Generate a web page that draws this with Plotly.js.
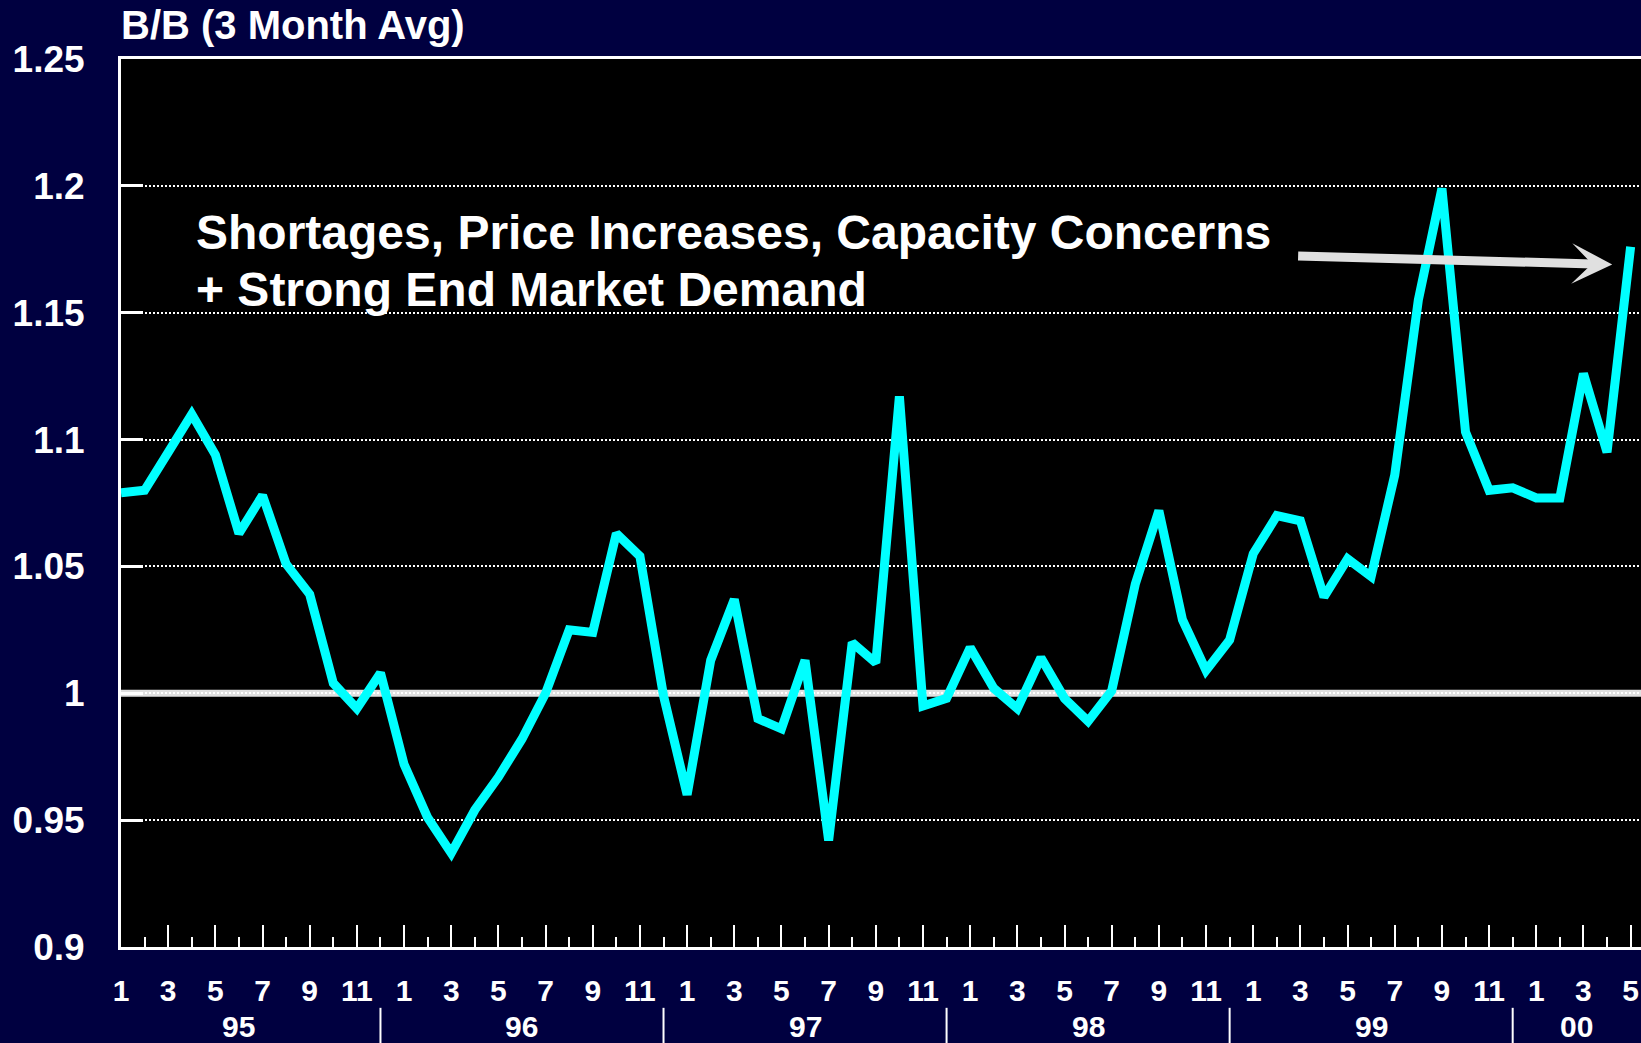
<!DOCTYPE html>
<html>
<head>
<meta charset="utf-8">
<script src="https://cdn.plot.ly/plotly-3.0.1.min.js"></script>
<style>
  html, body { margin: 0; padding: 0; background: #000040; }
  #chart { width: 1641px; height: 1043px; }
</style>
</head>
<body>
<div id="chart"></div>
<script>
// ---- Data (monthly, Jan 1995 .. May 2000) ----
const bookToBill = [
  1.079, 1.080, 1.095, 1.110, 1.094, 1.063, 1.078, 1.051, 1.039, 1.004, 0.994, 1.008,
  0.972, 0.951, 0.937, 0.954, 0.967, 0.982, 1.000, 1.025, 1.024, 1.063, 1.054, 0.999,
  0.960, 1.013, 1.037, 0.990, 0.986, 1.013, 0.942, 1.020, 1.012, 1.117, 0.995, 0.998,
  1.018, 1.002, 0.994, 1.014, 0.998, 0.989, 1.001, 1.043, 1.072, 1.029, 1.009, 1.021,
  1.055, 1.070, 1.068, 1.038, 1.053, 1.046, 1.086, 1.155, 1.199, 1.103, 1.080, 1.081,
  1.077, 1.077, 1.126, 1.095, 1.176
];
const monthLabels = ['1', '3', '5', '7', '9', '11'];
const yearLabels = ['95', '96', '97', '98', '99', '00'];
const yTickVals = [0.9, 0.95, 1.0, 1.05, 1.1, 1.15, 1.2, 1.25];
const yTickText = ['0.9', '0.95', '1', '1.05', '1.1', '1.15', '1.2', '1.25'];
const chartTitle = 'B/B (3 Month Avg)';
const noteLines = ['Shortages, Price Increases, Capacity Concerns', '+ Strong End Market Demand'];

// ---- Derived ----
const xIdx = bookToBill.map((_, i) => i);
const xMax = 64.44;
const majorVals = xIdx.filter(i => i % 2 === 0);
const majorText = majorVals.map(i => monthLabels[(i % 12) / 2]);

const FONT = 'Liberation Sans, Arial, sans-serif';
const WHITE = '#ffffff';

const annotations = [];
const shapes = [];

yearLabels.forEach((lab, k) => {
  const start = 12 * k - 1;
  const end = Math.min(12 * k + 11, xMax);
  annotations.push({
    x: (start + end) / 2, xref: 'x',
    y: -0.0895, yref: 'paper',
    text: lab, showarrow: false,
    xanchor: 'center', yanchor: 'middle',
    font: { family: FONT, size: 30, color: WHITE, weight: 'bold' }
  });
  if (k > 0) {
    shapes.push({
      type: 'line', xref: 'x', yref: 'paper',
      x0: 12 * k - 1, x1: 12 * k - 1, y0: -0.0685, y1: -0.12,
      line: { color: WHITE, width: 2 }
    });
  }
});

// reference line at 1.0
shapes.push({
  type: 'line', xref: 'paper', yref: 'y', layer: 'below',
  x0: 0, x1: 1, y0: 1, y1: 1,
  line: { color: '#e0e0e0', width: 7 }
});

// annotation text (two lines)
const noteY = [1.1818, 1.1592];
noteLines.forEach((t, i) => {
  annotations.push({
    x: 0.0482, xref: 'paper', y: noteY[i], yref: 'y',
    xanchor: 'left', yanchor: 'middle', align: 'left',
    text: t, showarrow: false,
    font: { family: FONT, size: 48, color: WHITE, weight: 'bold' }
  });
});
// arrow
annotations.push({
  x: 63.22, y: 1.1690, xref: 'x', yref: 'y',
  ax: 49.84, ay: 1.1724, axref: 'x', ayref: 'y',
  text: '', showarrow: true,
  arrowhead: 3, arrowsize: 0.75, arrowwidth: 9, arrowcolor: '#e0e0e0'
});

const trace = {
  type: 'scatter', mode: 'lines',
  x: xIdx, y: bookToBill,
  line: { color: '#00ffff', width: 9 },
  hoverinfo: 'skip'
};

const layout = {
  width: 1641, height: 1043,
  paper_bgcolor: '#000040',
  plot_bgcolor: '#000000',
  margin: { l: 121, r: 0, t: 59, b: 96, pad: 0 },
  showlegend: false,
  title: {
    text: chartTitle,
    font: { family: FONT, size: 40, color: WHITE, weight: 'bold' },
    x: 0, xref: 'paper', xanchor: 'left',
    y: 0.976, yref: 'container', yanchor: 'middle'
  },
  xaxis: {
    range: [0, xMax],
    tickmode: 'array', tickvals: majorVals, ticktext: majorText,
    ticks: 'inside', ticklen: 22, tickwidth: 2, tickcolor: WHITE,
    minor: { tickmode: 'linear', tick0: 0, dtick: 1, ticks: 'inside', ticklen: 10, tickwidth: 2, tickcolor: WHITE, showgrid: false },
    showgrid: false, zeroline: false,
    showline: true, linecolor: WHITE, linewidth: 3, mirror: true,
    ticklabelstandoff: 15,
    tickfont: { family: FONT, size: 30, color: WHITE, weight: 'bold' },
    fixedrange: true
  },
  yaxis: {
    range: [0.9, 1.25],
    tickmode: 'array', tickvals: yTickVals, ticktext: yTickText,
    ticks: 'inside', ticklen: 22, tickwidth: 3, tickcolor: WHITE,
    showgrid: true, gridcolor: WHITE, gridwidth: 2, griddash: '2px,2px',
    zeroline: false,
    showline: true, linecolor: WHITE, linewidth: 3,
    ticklabelstandoff: 26,
    tickfont: { family: FONT, size: 37, color: WHITE, weight: 'bold' },
    fixedrange: true
  },
  annotations: annotations,
  shapes: shapes
};

Plotly.newPlot('chart', [trace], layout, { displayModeBar: false, staticPlot: true });
</script>
</body>
</html>
